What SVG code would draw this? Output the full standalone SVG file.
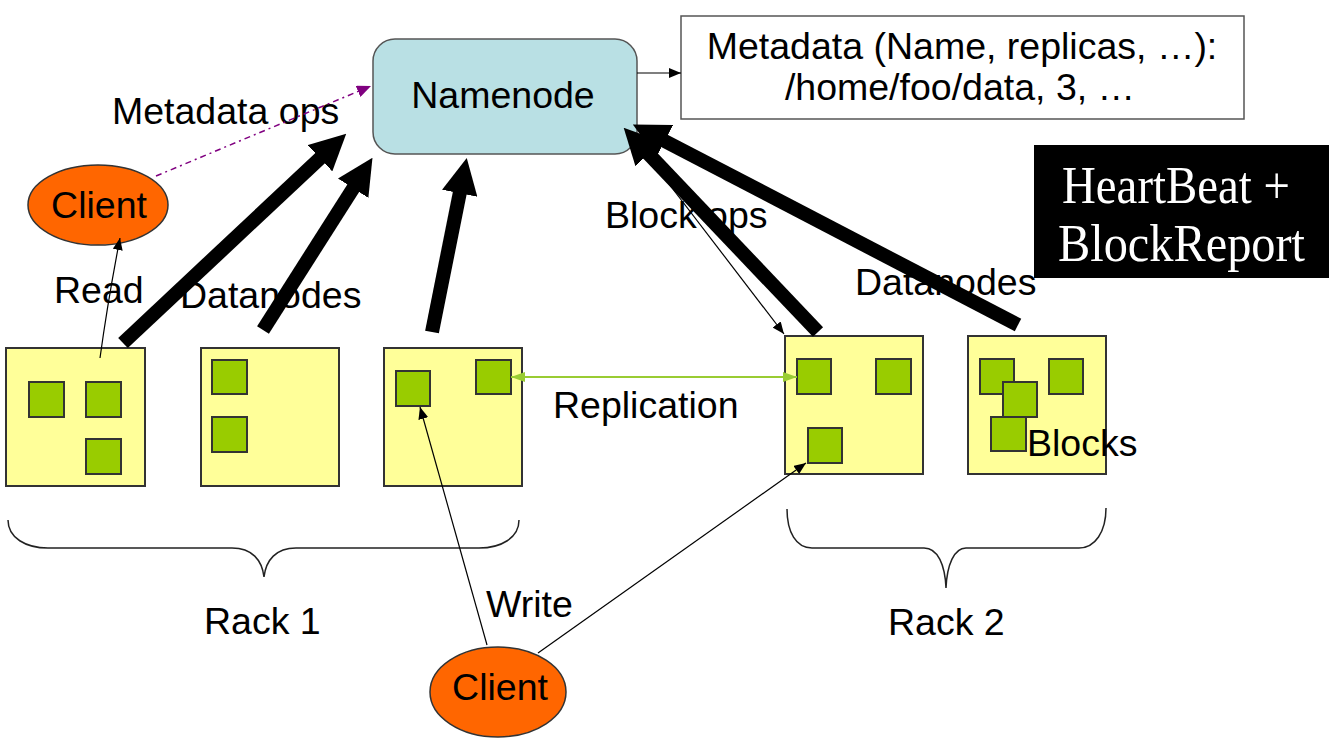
<svg xmlns="http://www.w3.org/2000/svg" width="1329" height="748" viewBox="0 0 1329 748">
<style>
.t{font-family:"Liberation Sans",Arial,sans-serif;font-size:37.5px;fill:#000}
.dn{fill:#FFFF99;stroke:#333;stroke-width:2}
.blk{fill:#99CC00;stroke:#333;stroke-width:2}
.cl{fill:#FF6600;stroke:#333;stroke-width:1.5}
.thin{fill:none;stroke:#000;stroke-width:1.2}
.thick{fill:none;stroke:#000;stroke-width:14}
.brace{fill:none;stroke:#222;stroke-width:1.5}
.hb{font-family:"Liberation Serif","Times New Roman",serif;font-size:52px;fill:#fff}
</style>
<defs>
<marker id="ah" viewBox="0 0 12 10" refX="12" refY="5" markerWidth="12" markerHeight="10" markerUnits="userSpaceOnUse" orient="auto"><path d="M0,0 L12,5 L0,10 z" fill="#000"/></marker>
<marker id="ahp" viewBox="0 0 14 12" refX="14" refY="6" markerWidth="14" markerHeight="12" markerUnits="userSpaceOnUse" orient="auto"><path d="M0,0 L14,6 L0,12 z" fill="#800080"/></marker>
<marker id="ahg" viewBox="0 0 14 10" refX="14" refY="5" markerWidth="14" markerHeight="10" markerUnits="userSpaceOnUse" orient="auto-start-reverse"><path d="M0,0 L14,5 L0,10 z" fill="#99CC33"/></marker>
<marker id="big" viewBox="0 0 36 36" refX="1" refY="18" markerWidth="36" markerHeight="36" markerUnits="userSpaceOnUse" orient="auto"><path d="M0,0 L36,18 L0,36 z" fill="#000"/></marker>
</defs>
<rect width="1329" height="748" fill="#fff"/>

<g id="namenode">
<rect x="373" y="39" width="264" height="115" rx="22" fill="#B9E0E4" stroke="#555" stroke-width="1.5"/>
<text class="t" x="503" y="108" text-anchor="middle">Namenode</text>
</g>
<g id="metadata">
<rect x="681" y="16" width="563" height="103" fill="#fff" stroke="#555" stroke-width="1.5"/>
<text class="t" x="962" y="59" text-anchor="middle" font-size="36">Metadata (Name, replicas, …):</text>
<text class="t" x="960" y="100" text-anchor="middle" font-size="36">/home/foo/data, 3, …</text>
</g>
<g id="heartbeat">
<rect x="1034" y="145" width="295" height="133" fill="#000"/>
<text class="hb" x="1062" y="203" textLength="228" lengthAdjust="spacingAndGlyphs">HeartBeat +</text>
<text class="hb" x="1058" y="261" textLength="247" lengthAdjust="spacingAndGlyphs">BlockReport</text>
</g>
<g id="client-read">
<ellipse class="cl" cx="98" cy="205" rx="70" ry="40"/>
<text class="t" x="99" y="218" text-anchor="middle">Client</text>
</g>
<g id="client-write">
<ellipse class="cl" cx="498" cy="692" rx="68" ry="45"/>
<text class="t" x="500" y="700" text-anchor="middle">Client</text>
</g>

<g id="rack1">
<g id="dn1">
<rect class="dn" x="6" y="348" width="139" height="138"/>
<rect class="blk" x="29" y="382" width="35" height="35"/>
<rect class="blk" x="86" y="382" width="35" height="35"/>
<rect class="blk" x="86" y="439" width="35" height="35"/>
</g>
<g id="dn2">
<rect class="dn" x="201" y="348" width="138" height="138"/>
<rect class="blk" x="212" y="360" width="35" height="34"/>
<rect class="blk" x="212" y="417" width="35" height="35"/>
</g>
<g id="dn3">
<rect class="dn" x="384" y="348" width="138" height="138"/>
<rect class="blk" x="396" y="371" width="34" height="35"/>
<rect class="blk" x="476" y="360" width="35" height="34"/>
</g>
<path class="brace" d="M8,520 C8,538 26,548 48,548 L232,548 C252,548 262,560 264,577 C266,560 276,548 296,548 L479,548 C501,548 519,538 519,520"/>
<text class="t" x="204" y="634">Rack 1</text>
</g>

<g id="rack2">
<g id="dn4">
<rect class="dn" x="785" y="336" width="138" height="138"/>
<rect class="blk" x="797" y="359" width="34" height="35"/>
<rect class="blk" x="876" y="359" width="35" height="35"/>
<rect class="blk" x="808" y="428" width="34" height="35"/>
</g>
<g id="dn5">
<rect class="dn" x="968" y="336" width="138" height="138"/>
<rect class="blk" x="980" y="359" width="34" height="35"/>
<rect class="blk" x="1049" y="359" width="34" height="35"/>
<rect class="blk" x="1003" y="382" width="34" height="35"/>
<rect class="blk" x="991" y="417" width="35" height="34"/>
<text class="t" x="1027" y="456">Blocks</text>
</g>
<path class="brace" d="M787,509 C787,532 796,548 812,548 L924,548 C938,548 945,565 946,588 C947,565 954,548 966,548 L1079,548 C1095,548 1106,532 1106,508"/>
<text class="t" x="888" y="635">Rack 2</text>
</g>

<g id="labels">
<text class="t" x="112" y="124">Metadata ops</text>
<text class="t" x="54" y="303">Read</text>
<text class="t" x="180" y="308">Datanodes</text>
<text class="t" x="855" y="295">Datanodes</text>
<text class="t" x="605" y="228">Block ops</text>
<text class="t" x="553" y="418">Replication</text>
<text class="t" x="486" y="617">Write</text>
</g>

<g id="connectors">
<line x1="637" y1="73" x2="681" y2="73" class="thin" marker-end="url(#ah)"/>
<line x1="156" y1="176" x2="371" y2="86" fill="none" stroke="#800080" stroke-width="1.5" stroke-dasharray="6,4,2,4" marker-end="url(#ahp)"/>
<path d="M100,358 Q108,300 120,238" class="thin" marker-end="url(#ah)"/>
<line x1="656" y1="167" x2="784" y2="334" class="thin" marker-end="url(#ah)"/>
<line x1="487" y1="645" x2="420" y2="407" class="thin" marker-end="url(#ah)"/>
<line x1="538" y1="653" x2="806" y2="463" class="thin" marker-end="url(#ah)"/>
<line x1="511" y1="377" x2="797" y2="377" fill="none" stroke="#99CC33" stroke-width="2" marker-start="url(#ahg)" marker-end="url(#ahg)"/>
<line x1="123" y1="343" x2="320.7" y2="157.6" class="thick" marker-end="url(#big)"/>
<line x1="263" y1="330" x2="353.7" y2="187.4" class="thick" marker-end="url(#big)"/>
<line x1="432" y1="332" x2="459.9" y2="192.3" class="thick" marker-end="url(#big)"/>
<line x1="818" y1="332" x2="647.8" y2="153.1" class="thick" marker-end="url(#big)"/>
<line x1="1018" y1="325" x2="663.9" y2="140.6" class="thick" marker-end="url(#big)"/>
</g>
</svg>
